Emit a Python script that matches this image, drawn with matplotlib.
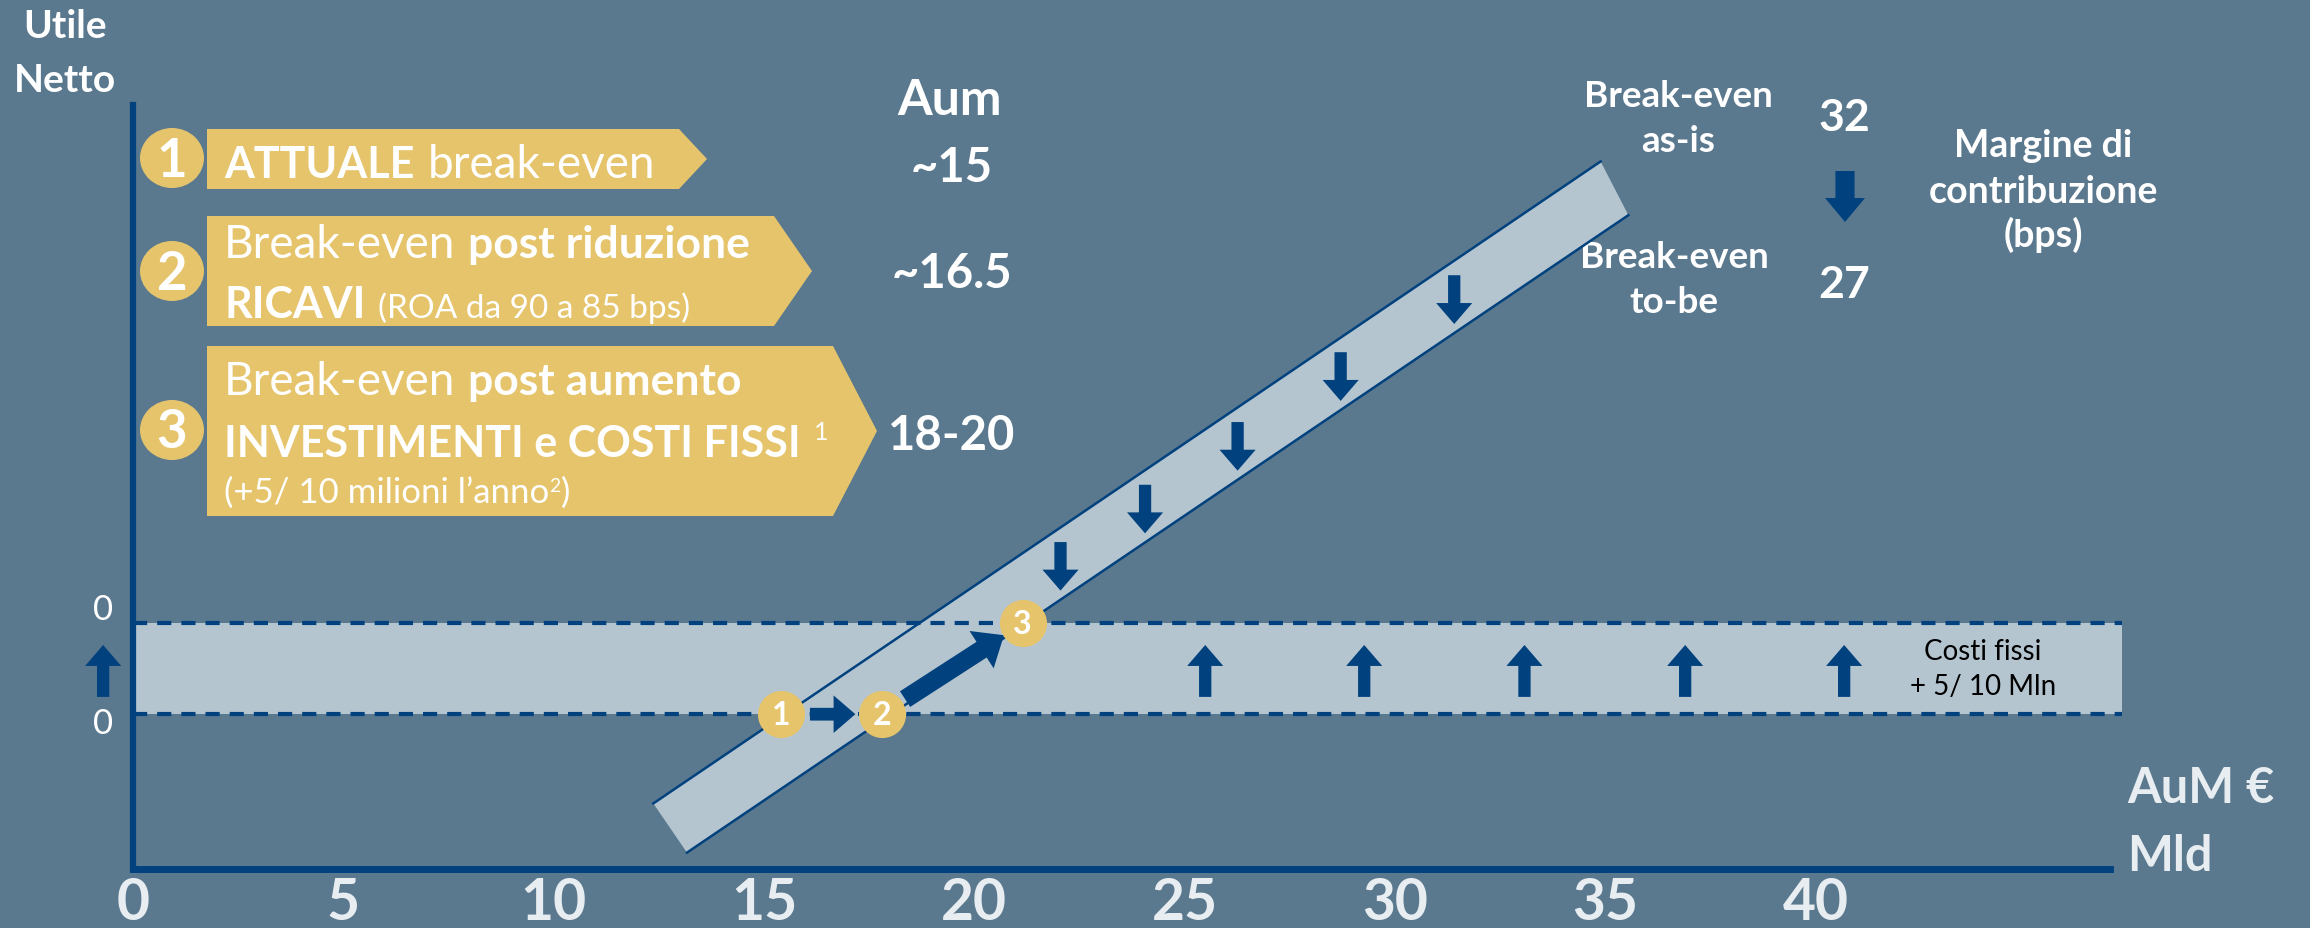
import matplotlib
matplotlib.use("Agg")
import matplotlib.pyplot as plt
from matplotlib.patches import Polygon, Ellipse
import numpy as np

plt.rcParams['font.family'] = ['Lato', 'DejaVu Sans']

# ---- data ----
aum_ticks = [0, 5, 10, 15, 20, 25, 30, 35, 40]

# break-even points: 1 attuale, 2 post riduzione ricavi, 3 post aumento costi
be_x = [15.4, 17.8, 21.15]
be_y = [0.0, 0.0, 1.0]
be_labels = ['1', '2', '3']

# utile netto lines (as-is / to-be), end points
asis_x = [12.37, 34.89]
asis_y = [-0.98, 6.07]
tobe_x = [13.17, 35.55]
tobe_y = [-1.52, 5.48]

# fixed-cost levels (break-even before / after +5/10 Mln)
cost_levels = [0.0, 1.0]
band_end = 47.28

# shift arrows
down_arrow_x = [22.05, 24.06, 26.26, 28.71, 31.41]
up_arrow_x = [25.49, 29.27, 33.08, 36.9, 40.68]
axis_arrow_x = -0.71

aum_values = ['~15', '~16.5', '18-20']
margin_values = ['32', '27']

# ---- style ----
BG = '#5B798E'
GOLD = '#E5C46C'
LIGHT = '#B5C5D0'
NAVY = '#00417E'
TICK = '#E8EDF1'
W, H = 2310, 929

fig = plt.figure(figsize=(W / 100, H / 100), dpi=100, facecolor=BG)

# layout layer in pixel units (y down) for the text panels
lay = fig.add_axes([0, 0, 1, 1])
lay.set_xlim(0, W)
lay.set_ylim(H, 0)
lay.axis('off')

# main chart
ax = fig.add_axes([133 / W, 1 - 870 / H, (2110 - 133) / W, (870 - 106) / H])
ax.set_xlim(0, 47.0)
ax.set_ylim(-1.70, 6.69)
ax.patch.set_alpha(0)
for s in ['top', 'right']:
    ax.spines[s].set_visible(False)
ax.spines['left'].set_color(NAVY)
ax.spines['left'].set_linewidth(4.5)
ax.spines['bottom'].set_color(NAVY)
ax.spines['bottom'].set_linewidth(5)
ax.set_yticks([])
ax.set_xticks(aum_ticks)
ax.set_xticklabels([str(t) for t in aum_ticks], fontsize=41, fontweight='bold', color=TICK)
ax.tick_params(axis='x', length=0, pad=5)

simple = 'simple,head_width=1.0,head_length=0.58,tail_width=0.34'


def arrow(a, start, end, scale=26, style=simple, shrink=(0, 0)):
    a.annotate('', xy=end, xytext=start,
               arrowprops=dict(arrowstyle=style, mutation_scale=scale, color=NAVY, lw=0,
                               shrinkA=shrink[0], shrinkB=shrink[1]),
               annotation_clip=False, zorder=5)


# fixed-cost band
ax.fill_between([0, band_end], cost_levels[0], cost_levels[1], color=LIGHT, lw=0,
                zorder=1, clip_on=False)
for lvl in cost_levels:
    ax.plot([0, band_end], [lvl, lvl], color=NAVY, lw=3, ls=(0, (3.4, 2.4)),
            zorder=3, clip_on=False)

# diagonal band between the two utile lines
ax.add_patch(Polygon([(asis_x[0], asis_y[0]), (asis_x[1], asis_y[1]),
                      (tobe_x[1], tobe_y[1]), (tobe_x[0], tobe_y[0])],
                     closed=True, fc=LIGHT, ec='none', zorder=2))
ax.plot(asis_x, asis_y, color=NAVY, lw=1.8, zorder=3)
ax.plot(tobe_x, tobe_y, color=NAVY, lw=1.8, zorder=3)

for x in down_arrow_x:
    top = np.interp(x, asis_x, asis_y) - 0.16
    tip = np.interp(x, tobe_x, tobe_y) + 0.10
    arrow(ax, (x, top), (x, tip))

for x in up_arrow_x + [axis_arrow_x]:
    arrow(ax, (x, 0.19), (x, 0.76))

# path 1 -> 2 -> 3
arrow(ax, (be_x[0], be_y[0]), (be_x[1], be_y[1]), scale=27, shrink=(21, 19))
arrow(ax, (be_x[1], be_y[1]), (be_x[2], be_y[2]), scale=32,
      style='simple,head_width=1.0,head_length=0.6,tail_width=0.42', shrink=(20, 16))

ax.scatter(be_x, be_y, s=1150, color=GOLD, lw=0, zorder=6, clip_on=False)
for x, y, t in zip(be_x, be_y, be_labels):
    ax.text(x, y, t, ha='center', va='center', fontsize=23, fontweight='bold',
            color='white', zorder=7)

ax.text(43.98, 0.5, 'Costi fissi\n+ 5/ 10 Mln', ha='center', va='center', fontsize=20,
        color='black', linespacing=1.45, zorder=4)

# y "0" labels
ax.text(axis_arrow_x, 1.16, '0', ha='center', va='center', fontsize=25, color='white',
        clip_on=False)
ax.text(axis_arrow_x, -0.10, '0', ha='center', va='center', fontsize=25, color='white',
        clip_on=False)

# ---- text panels ----
lay.text(65, 38, 'Utile', ha='center', va='baseline', fontsize=28, fontweight='bold', color='white')
lay.text(65, 92, 'Netto', ha='center', va='baseline', fontsize=28, fontweight='bold', color='white')
lay.text(2127, 803, 'AuM €', ha='left', va='baseline', fontsize=35, fontweight='bold', color=TICK)
lay.text(2127, 871, 'Mld', ha='left', va='baseline', fontsize=35, fontweight='bold', color=TICK)

boxes = [
    [(207, 130), (679, 130), (707, 160), (679, 190), (207, 190)],
    [(207, 217), (774, 217), (812, 272), (774, 327), (207, 327)],
    [(207, 347), (833, 347), (877, 432), (833, 517), (207, 517)],
]
circle_y = [159, 272, 431]
for pts, cy, t in zip(boxes, circle_y, be_labels):
    lay.add_patch(Polygon(pts, closed=True, fc=GOLD, ec='none'))
    lay.add_patch(Ellipse((172, cy), 64, 60, fc=GOLD, ec='none'))
    lay.text(172, cy + 2, t, ha='center', va='center', fontsize=38, fontweight='bold', color='white')

renderer = fig.canvas.get_renderer()


def runs(x, y, parts):
    for s, weight, size, dy in parts:
        if s == ' ':
            x += 0.3 * size * 100 / 72
            continue
        t = lay.text(x, y - dy, s, fontsize=size, fontweight=weight, color='white',
                     ha='left', va='baseline')
        x += t.get_window_extent(renderer).width


runs(224, 178, [('ATTUALE', 'bold', 31, 0), (' ', 0, 31, 0), ('break-even', 'normal', 33, 0)])
runs(224, 258, [('Break-even', 'normal', 33, 0), (' ', 0, 31, 0), ('post riduzione', 'bold', 32, 0)])
runs(224, 318, [('RICAVI', 'bold', 31, 0), (' ', 0, 31, 0), ('(ROA da 90 a 85 bps)', 'normal', 24, 0)])
runs(224, 395, [('Break-even', 'normal', 33, 0), (' ', 0, 31, 0), ('post aumento', 'bold', 32, 0)])
runs(224, 457, [('INVESTIMENTI e COSTI FISSI', 'bold', 31, 0), (' ', 0, 31, 0), ('1', 'normal', 18, 17)])
runs(224, 503, [('(+5/ 10 milioni l’anno', 'normal', 25, 0), ('2', 'normal', 14, 11),
                (')', 'normal', 25, 0)])

lay.text(950, 115, 'Aum', ha='center', va='baseline', fontsize=36, fontweight='bold', color='white')
for v, yb in zip(aum_values, [182, 288, 450]):
    lay.text(952, yb, v, ha='center', va='baseline', fontsize=34, fontweight='bold', color='white')

lay.text(1678, 107, 'Break-even', ha='center', va='baseline', fontsize=26.5, fontweight='bold', color='white')
lay.text(1678, 152, 'as-is', ha='center', va='baseline', fontsize=26.5, fontweight='bold', color='white')
lay.text(1674, 268, 'Break-even', ha='center', va='baseline', fontsize=26.5, fontweight='bold', color='white')
lay.text(1674, 313, 'to-be', ha='center', va='baseline', fontsize=26.5, fontweight='bold', color='white')
for v, yb in zip(margin_values, [131, 298]):
    lay.text(1844, yb, v, ha='center', va='baseline', fontsize=32, fontweight='bold', color='white')
arrow(lay, (1845, 172), (1845, 223), scale=23,
      style='simple,head_width=1.25,head_length=0.75,tail_width=0.6')
for s, yb in zip(['Margine di', 'contribuzione', '(bps)'], [157, 203, 247]):
    lay.text(2043, yb, s, ha='center', va='baseline', fontsize=27, fontweight='bold', color='white')

fig.savefig('out.png', dpi=100, facecolor=BG)
